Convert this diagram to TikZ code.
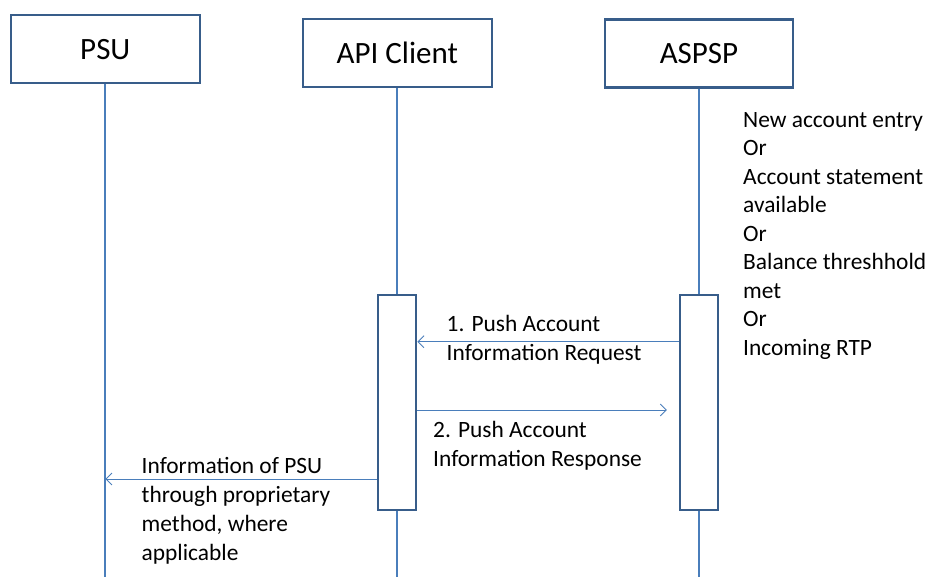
\documentclass[tikz,border=0pt]{standalone}
\usepackage{fontspec}
\setmainfont{Carlito}
\usetikzlibrary{arrows.meta}
\definecolor{lifeblue}{HTML}{4A7EBB}
\definecolor{boxblue}{HTML}{385D8A}
\begin{document}
\begin{tikzpicture}[x=1pt,y=-1pt,
 actor/.style={draw=boxblue, line width=2.4pt, fill=white, minimum width=189pt, minimum height=68pt, font=\fontsize{31}{33}\selectfont, inner sep=0},
 actbar/.style={draw=boxblue, line width=2.2pt, fill=white, minimum width=38pt, minimum height=215pt, inner sep=0},
 life/.style={draw=lifeblue, line width=2.2pt},
 msg/.style={draw=lifeblue, line width=0.9pt, -{Straight Barb[length=6pt,width=12pt]}},
 lbl/.style={font=\fontsize{23.4}{29.2}\selectfont, align=left, anchor=base west, inner sep=0}]
\useasboundingbox (0,0) rectangle (931,577);
% actors
\node[actor] (psu) at (105.3,49.2) {PSU};
\node[actor] (api) at (397.3,53.2) {API Client};
\node[actor, minimum width=188pt] (aspsp) at (699,53.5) {ASPSP};
% bottoms
\coordinate (psuend) at (105.3,577);
\coordinate (apiend) at (397.3,577);
\coordinate (aspspend) at (699,577);
% lifelines
\draw[life] (psu.south) -- (psuend);
\draw[life] (api.south) -- (apiend);
\draw[life] (aspsp.south) -- (aspspend);
% activation bars
\node[actbar] (apibar) at (397.3,402.5) {};
\node[actbar] (aspspbar) at (699,402.5) {};
% message levels
\coordinate (y1) at (0,341.7);
\coordinate (y2) at (0,410);
\coordinate (y3) at (0,479);
\draw[msg] (aspspbar.west |- y1) -- (apibar.east |- y1);
\draw[msg, shorten >=12pt] (apibar.east |- y2) -- (aspspbar.west |- y2);
\draw[msg] (apibar.west |- y3) -- (psu.south |- y3);
% labels (anchored at the baseline of the last line)
\node[lbl] (l1) at (446.5,360.3) {1. Push Account\\Information Request};
\node[lbl] (l2) at (433,466.7) {2. Push Account\\Information Response};
\node[lbl, font=\fontsize{23.4}{28.7}\selectfont] (l3) at (141.5,560) {Information of PSU\\through proprietary\\method, where\\applicable};
\node[lbl, font=\fontsize{23.4}{28.5}\selectfont] (note) at (743,355) {New account entry\\Or\\Account statement\\available\\Or\\Balance threshhold\\met\\Or\\Incoming RTP};
\end{tikzpicture}
\end{document}
